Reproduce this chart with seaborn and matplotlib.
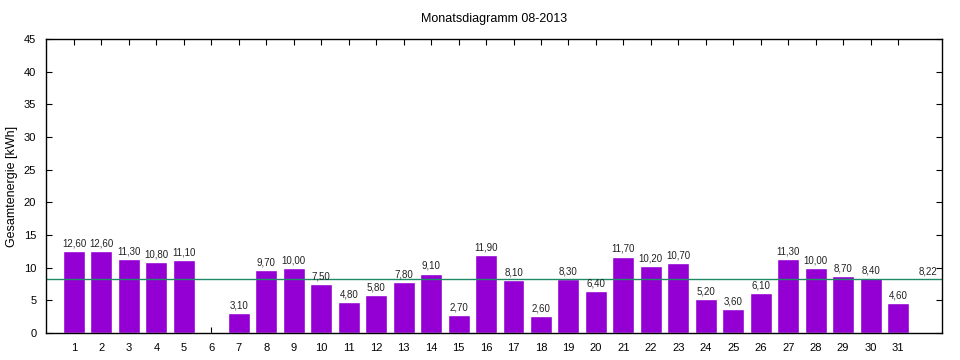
import pandas as pd
import matplotlib
matplotlib.use("Agg")
import matplotlib.pyplot as plt
import seaborn as sns

# Daily energy for August 2013 (kWh)
days = list(range(1, 32))
energy = [12.6, 12.6, 11.3, 10.8, 11.1, 0.0, 3.1, 9.7, 10.0, 7.5,
          4.8, 5.8, 7.8, 9.1, 2.7, 11.9, 8.1, 2.6, 8.3, 6.4,
          11.7, 10.2, 10.7, 5.2, 3.6, 6.1, 11.3, 10.0, 8.7, 8.4, 4.6]
average = 8.22

df = pd.DataFrame({"day": days, "energy": energy})

sns.set_style("ticks")
plt.rcParams['font.family'] = ['Liberation Sans', 'DejaVu Sans']
plt.rcParams['text.color'] = 'black'
plt.rcParams['axes.labelcolor'] = 'black'
plt.rcParams['xtick.color'] = 'black'
plt.rcParams['ytick.color'] = 'black'

fig = plt.figure(figsize=(9.6, 3.6), dpi=100)
ax = fig.add_axes([46 / 960, 1 - 333 / 360, (942 - 46) / 960, (333 - 39) / 360])

sns.barplot(data=df, x="day", y="energy", native_scale=True, color="#9400D3",
            saturation=1, width=0.8, ax=ax, errorbar=None)

# value labels with German decimal comma
for d, v in zip(days, energy):
    if v > 0:
        ax.text(d, v + 0.4, f"{v:.2f}".replace(".", ","), ha="center", va="bottom",
                fontsize=7, color="#222222")

ax.axhline(average, color="#1f8a66", linewidth=1)
ax.text(32.1, average + 0.4, f"{average:.2f}".replace(".", ","), ha="center",
        va="bottom", fontsize=7, color="#222222")

ax.set_xlim(-0.02, 32.6)
ax.set_ylim(0, 45)
ax.set_xticks(days)
ax.set_xticklabels([str(d) for d in days])
ax.set_yticks(range(0, 46, 5))
ax.tick_params(direction="in", top=True, right=True, labelsize=8, length=4,
               width=0.8, pad=7)
for s in ax.spines.values():
    s.set_visible(True)
    s.set_linewidth(1)
    s.set_color("black")

ax.set_xlabel("")
ax.set_ylabel("Gesamtenergie [kWh]", fontsize=9)
ax.set_title("Monatsdiagramm 08-2013", fontsize=9, pad=12)

fig.savefig("out.png", dpi=100)
